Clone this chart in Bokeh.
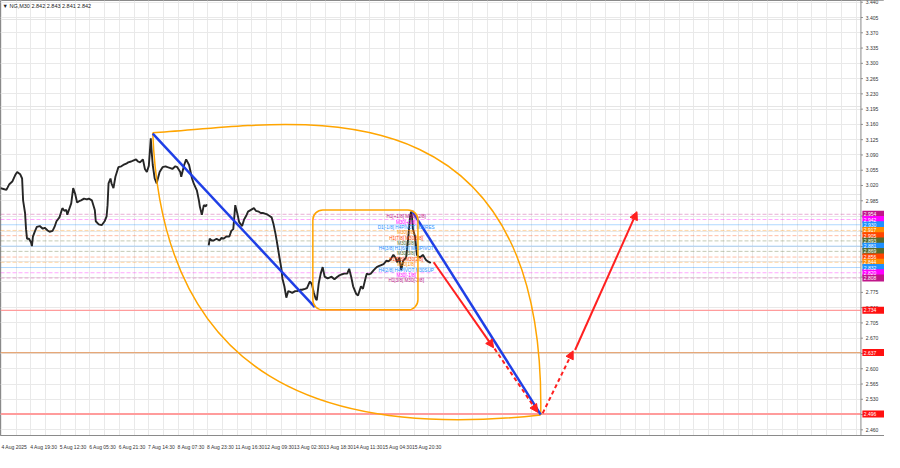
from bokeh.plotting import figure
from bokeh.models import (FixedTicker, Label, BoxAnnotation, Arrow, NormalHead, Grid,
                          ColumnDataSource)
from bokeh.embed import file_html
from bokeh.resources import INLINE
from bokeh.core.properties import value

# ---------------- data ----------------
week1_bar = [0, 3, 6, 9, 12, 15, 17, 20, 22, 23, 25, 26, 27, 29, 31, 32, 33, 35, 37, 40, 43, 45, 48, 50,
             53, 55, 57, 60, 63, 65, 67, 68, 70, 72, 74, 76, 78, 80, 82, 85, 88, 90, 93, 96, 97, 100,
             103, 106, 108, 109, 110, 112, 113, 115, 117, 120, 123, 125, 128, 130, 133, 135, 138, 140,
             142, 145, 147, 149, 151, 153, 154, 155, 157, 159, 162, 165, 168, 170, 173, 175, 178, 180,
             183, 184, 187, 189, 192, 195, 197, 200, 202, 203, 205, 207, 209, 210]
week1_close = [3.014, 3.012, 3.010, 3.023, 3.029, 3.044, 3.051, 3.046, 3.036, 2.986, 2.957, 2.920, 2.898,
               2.898, 2.890, 2.881, 2.903, 2.915, 2.925, 2.927, 2.921, 2.923, 2.917, 2.914, 2.916, 2.925,
               2.938, 2.947, 2.968, 2.962, 2.964, 2.953, 2.966, 2.979, 3.014, 3.001, 2.981, 2.984, 2.986,
               2.990, 2.988, 2.990, 2.986, 2.964, 2.938, 2.931, 2.929, 2.938, 2.949, 2.975, 3.025, 3.036,
               3.025, 3.014, 3.040, 3.062, 3.064, 3.067, 3.070, 3.073, 3.075, 3.077, 3.080, 3.075, 3.073,
               3.080, 3.058, 3.051, 3.065, 3.128, 3.095, 3.067, 3.036, 3.025, 3.051, 3.062, 3.064, 3.062,
               3.060, 3.058, 3.064, 3.062, 3.051, 3.040, 3.067, 3.080, 3.067, 3.036, 3.023, 3.008, 2.986,
               2.971, 2.953, 2.975, 2.972, 2.977]

week2_bar = [212, 213, 215, 217, 220, 223, 225, 227, 230, 233, 235, 237, 239, 241, 243, 246, 248, 250,
             252, 255, 258, 260, 263, 265, 267, 270, 272, 274, 276, 278, 280, 282, 284, 286, 287, 289,
             291, 293, 295, 297, 300, 302, 305, 307, 310, 312, 315, 317, 319, 321, 322, 324, 326, 328,
             330, 333, 335, 337, 340, 343, 345, 347, 350, 353, 355, 357, 359, 362, 364, 367, 369, 372,
             373, 375, 377, 380, 383, 385, 387, 390, 393, 395, 397, 400, 402, 404, 406, 408, 410, 413,
             415, 417, 418, 419, 420, 422, 424, 425, 427, 430, 433, 435, 437, 438]
week2_close = [2.883, 2.898, 2.894, 2.894, 2.898, 2.894, 2.900, 2.898, 2.903, 2.903, 2.916, 2.920, 2.975,
               2.957, 2.936, 2.927, 2.942, 2.950, 2.960, 2.964, 2.968, 2.962, 2.960, 2.957, 2.957, 2.955,
               2.953, 2.950, 2.947, 2.931, 2.909, 2.883, 2.855, 2.829, 2.807, 2.789, 2.763, 2.778, 2.776,
               2.774, 2.778, 2.778, 2.781, 2.781, 2.783, 2.785, 2.800, 2.794, 2.774, 2.760, 2.757, 2.796,
               2.818, 2.833, 2.811, 2.807, 2.809, 2.811, 2.805, 2.811, 2.814, 2.816, 2.818, 2.818, 2.829,
               2.811, 2.789, 2.772, 2.768, 2.789, 2.783, 2.811, 2.818, 2.816, 2.818, 2.826, 2.833, 2.835,
               2.837, 2.840, 2.848, 2.846, 2.850, 2.861, 2.855, 2.844, 2.855, 2.826, 2.848, 2.855, 2.898,
               2.949, 2.960, 2.947, 2.920, 2.903, 2.861, 2.858, 2.855, 2.861, 2.850, 2.846, 2.844, 2.842]

xtick_bars = [1, 31, 61, 91, 121, 151, 181, 211, 241, 271, 301, 331, 361, 391, 421]
xtick_labels = ["4 Aug 2025", "4 Aug 19:30", "5 Aug 12:30", "6 Aug 05:30", "6 Aug 21:30",
                "7 Aug 14:30", "8 Aug 07:30", "8 Aug 23:30", "11 Aug 16:30", "12 Aug 09:30",
                "13 Aug 02:30", "13 Aug 18:30", "14 Aug 11:30", "15 Aug 04:30", "15 Aug 20:30"]
xgrid_major = [1, 31, 61, 91, 121, 151, 181, 211, 241, 271, 301, 331, 361, 391, 421, 451, 481, 511,
               541, 571, 601, 631, 661, 691, 721, 751, 781, 811, 841, 871]
xgrid_minor = [16, 46, 76, 106, 136, 166, 196, 226, 256, 286, 316, 346, 376, 406, 436, 466, 496, 526,
               556, 586, 616, 646, 676, 706, 736, 766, 796, 826, 856]
ytick_values = [2.460, 2.495, 2.530, 2.565, 2.600, 2.635, 2.670, 2.705, 2.740, 2.775, 2.810, 2.845,
                2.880, 2.915, 2.950, 2.985, 3.020, 3.055, 3.090, 3.125, 3.160, 3.195, 3.230, 3.265,
                3.300, 3.335, 3.370, 3.405, 3.440]

murrey_levels = [2.954, 2.942, 2.930, 2.917, 2.905, 2.893, 2.881, 2.869, 2.856, 2.844, 2.832, 2.820, 2.808]
murrey_colors = ["#c0168a", "#ff00ff", "#1e90ff", "#ff8c00", "#ff4500", "#556b2f", "#1e90ff",
                 "#556b2f", "#ff4500", "#ff8c00", "#1e90ff", "#ff00ff", "#c0168a"]
murrey_texts = ["H1[+1/8] M30[+2/8]", "M30[+1/8]", "D1[-1/8] H4PIVOT M30RES", "M30[7/8]",
                "H1[7/8] M30[6/8]", "M30[5/8]", "H4[3/8] H1[6/8] M30PIVOT", "M30[3/8]",
                "H1[5/8] M30[2/8]", "M30[1/8]", "H4[2/8] H4PIVOT M30SUP", "M30[-1/8]", "H1[3/8] M30[-2/8]"]

target_levels = [2.734, 2.637, 2.496]
target_line_colors = ["#ff9c9c", "#e6a878", "#ff9c9c"]
target_line_widths = [1.2, 1.2, 2.0]

trend1_bars, trend1_prices = [155, 320], [3.139, 2.741]
trend2_bars, trend2_prices = [419, 550], [2.962, 2.495]

# lens (two bezier arcs): start, control1, control2, end
lens_start = (155, 3.141)
lens_end = (550, 2.494)
lens_upper_ctrl = [(280, 3.155), (556, 3.300)]
lens_lower_ctrl = [(165, 2.571), (330, 2.440)]

box_bars = (318, 425)
box_prices = (2.735, 2.964)

arrow_from_bar = [441, 503, 552, 585]
arrow_from_price = [2.844, 2.646, 2.498, 2.643]
arrow_to_bar = [502, 547, 583, 648]
arrow_to_price = [2.648, 2.500, 2.641, 2.960]
arrow_dashed = [False, True, True, False]

header_text = "\u25bc NG,M30  2.842 2.843 2.841 2.842"

# ---------------- layout constants ----------------
FONT = "Liberation Sans"
Y0, Y1 = 2.447, 3.444
PLOT_RIGHT = 876          # right edge of the price area (bar units); price scale beyond
XMAX = 900
LABEL_SHIFT = 13          # centre of a left-aligned time label relative to its tick

p = figure(width=884, height=452, x_range=(0, XMAX), y_range=(Y0, Y1),
           output_backend="svg", toolbar_location=None, y_axis_location=None,
           min_border_left=0, min_border_top=0, min_border_bottom=0, min_border_right=0)
p.background_fill_color = "white"
p.border_fill_color = "white"
p.outline_line_color = "#8a8a8a"

# time axis (labels centred so that they start at their tick)
centres = [b + LABEL_SHIFT for b in xtick_bars]
p.xaxis.ticker = FixedTicker(ticks=centres)
p.xaxis.major_label_overrides = {c: lab for c, lab in zip(centres, xtick_labels)}
p.xaxis.major_label_standoff = 2
p.xaxis.major_label_text_font_size = "5px"
p.xaxis.major_label_text_font = FONT
p.xaxis.major_label_text_color = "#333333"
p.xaxis.axis_line_color = "#8a8a8a"
p.xaxis.major_tick_line_color = None
p.xaxis.minor_tick_line_color = None

p.xgrid.ticker = FixedTicker(ticks=xgrid_major, minor_ticks=xgrid_minor)
p.xgrid.grid_line_color = "#e9e9e9"
p.xgrid.minor_grid_line_color = "#e9e9e9"
p.add_layout(Grid(dimension=1, ticker=FixedTicker(ticks=ytick_values), grid_line_color="#e9e9e9"))

# level lines
for lvl, col in zip(murrey_levels, murrey_colors):
    p.segment(x0=[0], y0=[lvl], x1=[PLOT_RIGHT], y1=[lvl], line_color=col, line_alpha=0.35,
              line_width=1, line_dash="solid" if col == "#1e90ff" else "4 2")
for lvl, col, w in zip(target_levels, target_line_colors, target_line_widths):
    p.segment(x0=[0], y0=[lvl], x1=[PLOT_RIGHT], y1=[lvl], line_color=col, line_width=w)

# price
p.line(week1_bar, week1_close, line_color="#262626", line_width=1.9)
p.line(week2_bar, week2_close, line_color="#262626", line_width=1.9)

# box
p.add_layout(BoxAnnotation(left=box_bars[0], right=box_bars[1], bottom=box_prices[0], top=box_prices[1],
                           fill_alpha=0, line_color="#ffa500", line_alpha=1.0, line_width=1.5,
                           border_radius=10))

# lens
p.bezier(x0=[lens_start[0], lens_start[0]], y0=[lens_start[1], lens_start[1]],
         x1=[lens_end[0], lens_end[0]], y1=[lens_end[1], lens_end[1]],
         cx0=[lens_upper_ctrl[0][0], lens_lower_ctrl[0][0]], cy0=[lens_upper_ctrl[0][1], lens_lower_ctrl[0][1]],
         cx1=[lens_upper_ctrl[1][0], lens_lower_ctrl[1][0]], cy1=[lens_upper_ctrl[1][1], lens_lower_ctrl[1][1]],
         line_color="#ffa500", line_width=1.5)

# trend lines
p.line(trend1_bars, trend1_prices, line_color="#1f3fe6", line_width=2.5)
p.line(trend2_bars, trend2_prices, line_color="#1f3fe6", line_width=2.5)

# arrows
for xs, ys, xe, ye, d in zip(arrow_from_bar, arrow_from_price, arrow_to_bar, arrow_to_price, arrow_dashed):
    p.add_layout(Arrow(x_start=xs, y_start=ys, x_end=xe, y_end=ye, line_color="#ff2020", line_width=2,
                       line_dash="4 3" if d else "solid",
                       end=NormalHead(size=8, fill_color="#ff2020", line_color="#ff2020")))

# level texts
src = ColumnDataSource(dict(x=[413] * len(murrey_levels), y=murrey_levels, t=murrey_texts, c=murrey_colors))
p.text(x="x", y="y", text="t", text_color="c", source=src, text_font=value(FONT),
       text_font_size="4.6px", text_align="center", text_baseline="top")

# ---- price scale on the right ----
p.quad(left=[PLOT_RIGHT], right=[XMAX], bottom=[Y0], top=[Y1], fill_color="white", line_color=None)
p.segment(x0=[PLOT_RIGHT], y0=[Y0], x1=[PLOT_RIGHT], y1=[Y1], line_color="#8a8a8a", line_width=1)
p.segment(x0=[PLOT_RIGHT] * len(ytick_values), y0=ytick_values,
          x1=[PLOT_RIGHT + 2] * len(ytick_values), y1=ytick_values, line_color="#8a8a8a")
p.text(x=[PLOT_RIGHT + 5] * len(ytick_values), y=ytick_values, text=[f"{v:.3f}" for v in ytick_values],
       text_font=value(FONT), text_font_size="5px", text_color="#333333", text_baseline="middle")

tag_levels = murrey_levels + target_levels
tag_colors = murrey_colors + ["#ff1010"] * len(target_levels)
p.rect(x=[(PLOT_RIGHT + XMAX) / 2 + 0.5] * len(tag_levels), y=tag_levels, width=XMAX - PLOT_RIGHT - 2,
       height=7, height_units="screen", fill_color=tag_colors, line_color=None)
p.text(x=[PLOT_RIGHT + 3] * len(tag_levels), y=tag_levels, text=[f"{v:.3f}" for v in tag_levels],
       text_font=value(FONT), text_font_size="5px", text_color="white", text_baseline="middle")

# header
p.add_layout(Label(x=2, y=Y1, y_offset=-2, text=header_text, text_font_size="5.5px", text_font=FONT,
                   text_color="#222222", text_baseline="top"))

open("out.html", "w").write(file_html(p, INLINE))
